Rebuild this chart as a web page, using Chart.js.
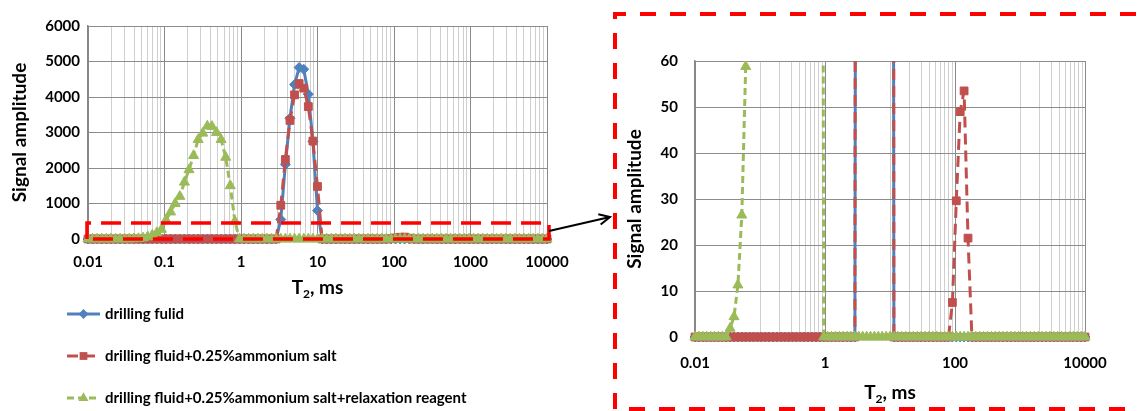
<!DOCTYPE html>
<html>
<head>
<meta charset="utf-8">
<script src="https://cdn.jsdelivr.net/npm/chart.js@4.4.1/dist/chart.umd.min.js"></script>
<style>
  body { margin: 0; background: #fff; }
  #wrap { position: relative; width: 1137px; height: 411px; overflow: hidden; }
  #left { position: absolute; left: 0; top: 0; width: 600px; height: 411px; }
  #right { position: absolute; left: 620px; top: 20px; width: 517px; height: 385px; }
  #over { position: absolute; left: 0; top: 0; pointer-events: none; }
</style>
</head>
<body>
<div id="wrap">
  <div id="left"><canvas id="c1"></canvas></div>
  <div id="right"><canvas id="c2"></canvas></div>
  <canvas id="over" width="1137" height="411"></canvas>
</div>
<script>
// T2 relaxation time grid, ms (log spaced, 0.01 .. 10000)
const t2 = [
  0.01, 0.01148, 0.01318, 0.01514, 0.01738, 0.01995, 0.02291, 0.02630, 0.03020, 0.03467,
  0.03981, 0.04571, 0.05248, 0.06026, 0.06918, 0.07943, 0.09120, 0.1047, 0.1202, 0.1380,
  0.1585, 0.1820, 0.2089, 0.2399, 0.2754, 0.3162, 0.3631, 0.4169, 0.4786, 0.5495,
  0.6310, 0.7244, 0.8318, 0.9550, 1.096, 1.259, 1.445, 1.660, 1.905, 2.188,
  2.512, 2.884, 3.311, 3.802, 4.365, 5.012, 5.754, 6.607, 7.586, 8.710,
  10.00, 11.48, 13.18, 15.14, 17.38, 19.95, 22.91, 26.30, 30.20, 34.67,
  39.81, 45.71, 52.48, 60.26, 69.18, 79.43, 91.20, 104.7, 120.2, 138.0,
  158.5, 182.0, 208.9, 239.9, 275.4, 316.2, 363.1, 416.9, 478.6, 549.5,
  631.0, 724.4, 831.8, 955.0, 1096, 1259, 1445, 1660, 1905, 2188,
  2512, 2884, 3311, 3802, 4365, 5012, 5754, 6607, 7586, 8710,
  10000
];

// signal amplitude of each sample on the t2 grid
const fluid = [
  0, 0, 0, 0, 0, 0, 0, 0, 0, 0,
  0, 0, 0, 0, 0, 0, 0, 0, 0, 0,
  0, 0, 0, 0, 0, 0, 0, 0, 0, 0,
  0, 0, 0, 0, 0, 0, 0, 0, 0, 0,
  0, 0, 550, 2100, 3400, 4350, 4830, 4780, 4080, 2750,
  800, 0, 0, 0, 0, 0, 0, 0, 0, 0,
  0, 0, 0, 0, 0, 0, 0, 0, 0, 0,
  0, 0, 0, 0, 0, 0, 0, 0, 0, 0,
  0, 0, 0, 0, 0, 0, 0, 0, 0, 0,
  0, 0, 0, 0, 0, 0, 0, 0, 0, 0,
  0
];
const fluidSalt = [
  0, 0, 0, 0, 0, 0, 0, 0, 0, 0,
  0, 0, 0, 0, 0, 0, 0, 0, 0, 0,
  0, 0, 0, 0, 0, 0, 0, 0, 0, 0,
  0, 0, 0, 0, 0, 0, 0, 0, 0, 0,
  0, 0, 950, 2240, 3340, 4060, 4380, 4250, 3730, 2760,
  1480, 0, 0, 0, 0, 0, 0, 0, 0, 0,
  0, 0, 0, 0, 0, 0, 7.5, 29.6, 49, 53.5,
  21.5, 0, 0, 0, 0, 0, 0, 0, 0, 0,
  0, 0, 0, 0, 0, 0, 0, 0, 0, 0,
  0, 0, 0, 0, 0, 0, 0, 0, 0, 0,
  0
];
const fluidSaltReagent = [
  0, 0, 0, 0, 0, 0, 0, 0, 0, 1.9,
  4.4, 11.3, 26.5, 58.8, 110, 180, 270, 535, 760, 1000,
  1200, 1600, 1950, 2350, 2800, 2980, 3180, 3170, 3000, 2800,
  2300, 1500, 500, 0, 0, 0, 0, 0, 0, 0,
  0, 0, 0, 0, 0, 0, 0, 0, 0, 0,
  0, 0, 0, 0, 0, 0, 0, 0, 0, 0,
  0, 0, 0, 0, 0, 0, 0, 0, 0, 0,
  0, 0, 0, 0, 0, 0, 0, 0, 0, 0,
  0, 0, 0, 0, 0, 0, 0, 0, 0, 0,
  0, 0, 0, 0, 0, 0, 0, 0, 0, 0,
  0
];

const seriesNames = [
  'drilling fulid',
  'drilling fluid+0.25%ammonium salt',
  'drilling fluid+0.25%ammonium salt+relaxation reagent'
];

// axis labels
const xLabelsFull = ['0.01', '0.1', '1', '10', '100', '1000', '10000'];
const xLabelsZoom = ['0.01', '1', '100', '10000'];
const yMaxFull = 6000, yStepFull = 1000;
const yMaxZoom = 60, yStepZoom = 10;
const zoomBoxTop = 450; // dashed frame around the low-amplitude band

const FONT = 'Lato, sans-serif';
Chart.defaults.font.family = FONT;
Chart.defaults.font.weight = 'bold';
Chart.defaults.color = '#000';

const looks = [
  { color: '#4F81BD', dash: [], point: 'rectRot', r: 5, order: 2 },
  { color: '#C0504D', dash: [11, 6], point: 'rect', r: 5.5, order: 1 },
  { color: '#9BBB59', dash: [7, 4], point: 'triangle', r: 5.8, order: 0 }
];
const values = [fluid, fluidSalt, fluidSaltReagent];

function makeDatasets() {
  return values.map((v, k) => ({
    label: seriesNames[k],
    data: t2.map((x, i) => ({ x: x, y: v[i] })),
    borderColor: looks[k].color,
    backgroundColor: looks[k].color,
    borderWidth: 3,
    borderDash: looks[k].dash,
    borderJoinStyle: 'round',
    pointStyle: looks[k].point,
    pointRadius: looks[k].r,
    pointBorderWidth: 1,
    pointBackgroundColor: looks[k].color,
    pointBorderColor: looks[k].color,
    tension: 0,
    order: looks[k].order,
    clip: { left: 8, right: 8, top: 0, bottom: 8 }
  }));
}

// every gridline position for a log axis: base * multiplier
function logGrid(bases, mults, last) {
  const out = [];
  bases.forEach(b => mults.forEach(m => out.push(b * m)));
  out.push(last);
  return out;
}
function labelFor(v, labels) {
  const hit = labels.find(l => Math.abs(Math.log10(v / parseFloat(l))) < 1e-6);
  return hit || '';
}

function xAxis(grid, labels, pad, h) {
  return {
    type: 'logarithmic',
    min: 0.01,
    max: 10000,
    afterBuildTicks: s => { s.ticks = grid.map(v => ({ value: v })); },
    afterFit: s => { s.height = h; },
    ticks: {
      autoSkip: false, maxRotation: 0, padding: pad,
      font: { size: 15, weight: 'bold' },
      callback: v => labelFor(v, labels)
    },
    grid: {
      drawTicks: false,
      lineWidth: 1,
      color: c => labelFor(c.tick.value, labels) ? '#8a8a8a' : '#cfcfcf'
    },
    border: { color: '#868686', width: 1 }
  };
}
function yAxis(max, step, pad, w) {
  return {
    min: 0, max: max,
    afterFit: s => { s.width = w; },
    ticks: { stepSize: step, padding: pad, font: { size: 15, weight: 'bold' }, callback: v => String(v) },
    grid: { drawTicks: false, color: '#8c8c8c' },
    border: { color: '#868686', width: 1.5 },
    title: { display: true, text: 'Signal amplitude', font: { size: 19, weight: 'bold' }, padding: { top: 0, bottom: 4 } }
  };
}

function drawT2Title(ctx, cx, y) {
  ctx.save();
  ctx.fillStyle = '#000';
  ctx.textBaseline = 'alphabetic';
  ctx.font = 'bold 19px ' + FONT;
  const wT = ctx.measureText('T').width, wR = ctx.measureText(', ms').width;
  ctx.font = 'bold 12px ' + FONT;
  const w2 = ctx.measureText('2').width;
  let x = cx - (wT + w2 + wR) / 2;
  ctx.font = 'bold 19px ' + FONT;
  ctx.fillText('T', x, y); x += wT;
  ctx.font = 'bold 12px ' + FONT;
  ctx.fillText('2', x, y + 4); x += w2;
  ctx.font = 'bold 19px ' + FONT;
  ctx.fillText(', ms', x, y);
  ctx.restore();
}

function marker(ctx, style, x, y, r) {
  ctx.beginPath();
  if (style === 'rectRot') {
    ctx.moveTo(x, y - r); ctx.lineTo(x + r, y); ctx.lineTo(x, y + r); ctx.lineTo(x - r, y);
  } else if (style === 'rect') {
    const s = r * Math.SQRT1_2;
    ctx.rect(x - s, y - s, 2 * s, 2 * s);
  } else {
    ctx.moveTo(x, y - r);
    ctx.lineTo(x + r * 0.866, y + r * 0.5);
    ctx.lineTo(x - r * 0.866, y + r * 0.5);
  }
  ctx.closePath();
  ctx.fill();
}

function dashedRect(ctx, x0, y0, x1, y1, dash, w) {
  ctx.save();
  ctx.strokeStyle = '#FF0000';
  ctx.lineWidth = w;
  ctx.setLineDash(dash);
  ctx.beginPath();
  ctx.moveTo(x0, y1); ctx.lineTo(x0, y0); ctx.lineTo(x1, y0); ctx.lineTo(x1, y1); ctx.closePath();
  ctx.stroke();
  ctx.restore();
}

const fullPlugin = {
  id: 'fullExtras',
  afterDatasetsDraw(chart) {
    const ctx = chart.ctx, xs = chart.scales.x, ys = chart.scales.y;
    dashedRect(ctx, xs.getPixelForValue(0.01) - 1, ys.getPixelForValue(zoomBoxTop),
      xs.getPixelForValue(10000) + 2, ys.getPixelForValue(0), [20, 10], 3.5);
  },
  afterDraw(chart) {
    const ctx = chart.ctx, a = chart.chartArea;
    drawT2Title(ctx, (a.left + a.right) / 2, 294);
    // legend, one entry per row
    const rows = [314, 356, 398];
    ctx.save();
    looks.forEach((lk, k) => {
      const y = rows[k];
      ctx.strokeStyle = lk.color; ctx.fillStyle = lk.color; ctx.lineWidth = 3;
      ctx.setLineDash(lk.dash);
      ctx.beginPath(); ctx.moveTo(67, y); ctx.lineTo(100, y); ctx.stroke();
      ctx.setLineDash([]);
      marker(ctx, lk.point, 83.5, y, lk.r);
      ctx.fillStyle = '#000';
      ctx.font = 'bold 15px ' + FONT;
      ctx.textBaseline = 'middle';
      ctx.fillText(seriesNames[k], 105, y);
    });
    ctx.restore();
  }
};

const zoomPlugin = {
  id: 'zoomExtras',
  afterDraw(chart) {
    const a = chart.chartArea;
    drawT2Title(chart.ctx, (a.left + a.right) / 2, 379);
  }
};

new Chart(document.getElementById('c1'), {
  type: 'line',
  data: { datasets: makeDatasets() },
  options: {
    responsive: true, maintainAspectRatio: false, animation: false,
    layout: { padding: { left: 8, right: 53, top: 26, bottom: 116 } },
    plugins: { legend: { display: false }, tooltip: { enabled: false } },
    scales: {
      x: xAxis(logGrid([0.01, 0.1, 1, 10, 100, 1000], [1, 2, 3, 4, 5, 6, 7, 8, 9], 10000), xLabelsFull, 14, 56),
      y: yAxis(yMaxFull, yStepFull, 8, 80)
    }
  },
  plugins: [fullPlugin]
});

new Chart(document.getElementById('c2'), {
  type: 'line',
  data: { datasets: makeDatasets() },
  options: {
    responsive: true, maintainAspectRatio: false, animation: false,
    layout: { padding: { left: 3, right: 52, top: 41, bottom: 8 } },
    plugins: { legend: { display: false }, tooltip: { enabled: false } },
    scales: {
      x: xAxis(logGrid([0.01, 1, 100], [1, 10, 20, 30, 40, 50, 60, 70, 80, 90], 10000), xLabelsZoom, 17, 60),
      y: yAxis(yMaxZoom, yStepZoom, 17, 72)
    }
  },
  plugins: [zoomPlugin]
});

// connector arrow and the frame around the magnified view
const oc = document.getElementById('over').getContext('2d');
dashedRect(oc, 615, 14, 1150, 409, [16, 14], 4);
oc.strokeStyle = '#000';
oc.lineWidth = 2;
oc.beginPath(); oc.moveTo(549, 231); oc.lineTo(610, 217); oc.stroke();
const ang = Math.atan2(217 - 231, 610 - 549);
oc.beginPath();
oc.moveTo(610 - 12 * Math.cos(ang - 0.45), 217 - 12 * Math.sin(ang - 0.45));
oc.lineTo(610, 217);
oc.lineTo(610 - 12 * Math.cos(ang + 0.45), 217 - 12 * Math.sin(ang + 0.45));
oc.stroke();
</script>
</body>
</html>
